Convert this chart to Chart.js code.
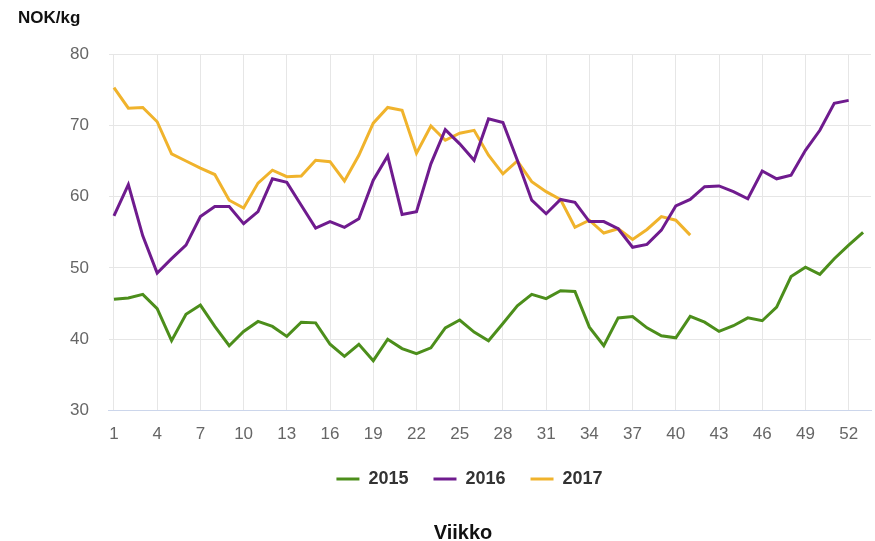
<!DOCTYPE html>
<html>
<head>
<meta charset="utf-8">
<script src="https://cdn.jsdelivr.net/npm/chart.js@4"></script>
<style>
  body { margin: 0; background: #fff; }
  #wrap { position: relative; width: 875px; height: 541px; }
  .lbl { position: absolute; font-family: "Liberation Sans", Arial, sans-serif; font-weight: bold; color: #111; }
  #ytitle { left: 18px; top: 8px; font-size: 17px; }
  #xtitle { left: 0; width: 926px; text-align: center; top: 521px; font-size: 20px; }
</style>
</head>
<body>
<div id="wrap">
  <canvas id="chart"></canvas>
  <div class="lbl" id="ytitle">NOK/kg</div>
  <div class="lbl" id="xtitle">Viikko</div>
</div>
<script>
// weeks shown on the x axis
const weekTicks = [1, 4, 7, 10, 13, 16, 19, 22, 25, 28, 31, 34, 37, 40, 43, 46, 49, 52];
const yTicks = [30, 40, 50, 60, 70, 80];

// price NOK/kg per week
const price2015 = [45.6, 45.8, 46.3, 44.3, 39.8, 43.5, 44.8, 41.8, 39.1, 41.1,
    42.5, 41.8, 40.4, 42.4, 42.3, 39.3, 37.6, 39.3, 37.0, 40.0,
    38.7, 38.0, 38.8, 41.6, 42.7, 41.0, 39.8, 42.2, 44.7, 46.3,
    45.7, 46.8, 46.7, 41.7, 39.1, 43.0, 43.2, 41.6, 40.5, 40.2,
    43.2, 42.4, 41.1, 41.9, 43.0, 42.6, 44.5, 48.8, 50.1, 49.1,
    51.3, 53.2, 55.0];
const price2016 = [57.3, 61.7, 54.5, 49.3, 51.3, 53.2, 57.2, 58.6, 58.6, 56.2,
    57.9, 62.5, 62.0, 58.8, 55.6, 56.5, 55.7, 56.9, 62.3, 65.7,
    57.5, 57.9, 64.6, 69.4, 67.4, 65.1, 70.9, 70.4, 65.1, 59.5,
    57.6, 59.6, 59.2, 56.5, 56.5, 55.5, 52.9, 53.3, 55.3, 58.7,
    59.6, 61.4, 61.5, 60.7, 59.7, 63.6, 62.5, 63.0, 66.5, 69.3,
    73.1, 73.5];
const price2017 = [75.3, 72.4, 72.5, 70.5, 66.0, 65.0, 64.0, 63.1, 59.5, 58.4,
    61.9, 63.7, 62.8, 62.9, 65.1, 64.9, 62.2, 65.8, 70.3, 72.5,
    72.1, 66.1, 69.9, 67.9, 68.9, 69.3, 65.8, 63.2, 65.0, 62.1,
    60.7, 59.6, 55.7, 56.7, 54.9, 55.5, 54.0, 55.4, 57.2, 56.7,
    54.6];

const toPoints = (arr) => arr.map((v, i) => ({ x: i + 1, y: v }));

const makeSet = (label, data, color) => ({
    label: label,
    data: toPoints(data),
    borderColor: color,
    backgroundColor: color,
    borderWidth: 3,
    pointRadius: 0,
    pointHoverRadius: 0,
    tension: 0
});

const font = 'Liberation Sans, Arial, sans-serif';

// nudge the legend a little to the right, like the original
const legendShift = {
    id: 'legendShift',
    afterLayout: (chart) => {
        chart.legend.left += 9;
        chart.legend.right += 9;
    }
};

new Chart(document.getElementById('chart'), {
    type: 'line',
    data: {
        datasets: [
            makeSet('2015', price2015, '#4c8e1b'),
            makeSet('2016', price2016, '#6f1b8e'),
            makeSet('2017', price2017, '#f0b32c')
        ]
    },
    plugins: [legendShift],
    options: {
        responsive: true,
        maintainAspectRatio: false,
        animation: false,
        layout: { padding: { left: 50, top: 54, right: 4, bottom: 43 } },
        plugins: {
            tooltip: { enabled: false },
            legend: {
                position: 'bottom',
                labels: {
                    boxWidth: 23,
                    boxHeight: 3,
                    padding: 25,
                    color: '#333',
                    font: { family: font, size: 18, weight: 'bold' },
                    generateLabels: (chart) => Chart.defaults.plugins.legend.labels.generateLabels(chart)
                        .map(l => Object.assign(l, { lineWidth: 0 }))
                }
            }
        },
        scales: {
            x: {
                type: 'linear',
                min: 0.65,
                max: 53.55,
                afterBuildTicks: (scale) => { scale.ticks = weekTicks.map(v => ({ value: v })); },
                // pull the legend a bit closer to the axis labels
                afterFit: (scale) => { scale.height -= 14; },
                grid: { color: '#e6e6e6', drawTicks: false },
                border: { color: '#ccd6eb', width: 1 },
                ticks: {
                    padding: 14,
                    color: '#666',
                    font: { family: font, size: 17 },
                    callback: (v) => String(v)
                }
            },
            y: {
                min: 30,
                max: 80,
                afterBuildTicks: (scale) => { scale.ticks = yTicks.map(v => ({ value: v })); },
                grid: { color: '#e6e6e6', drawTicks: false },
                border: { display: false },
                ticks: {
                    padding: 20,
                    color: '#666',
                    font: { family: font, size: 17 }
                }
            }
        }
    }
});
</script>
</body>
</html>
